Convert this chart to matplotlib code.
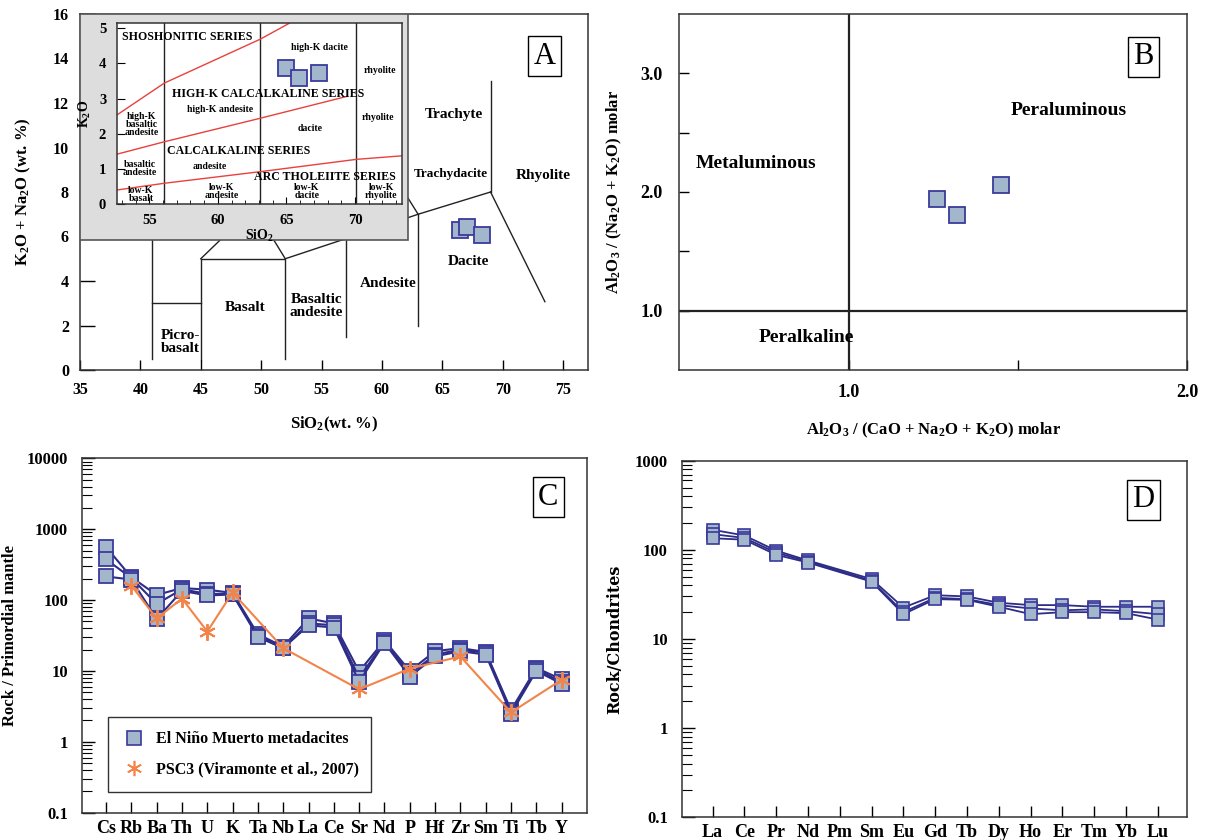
import numpy as np
import matplotlib.pyplot as plt
from matplotlib.patches import Rectangle
from matplotlib.lines import Line2D

plt.rcParams['font.family'] = ['Liberation Serif', 'DejaVu Serif']
plt.rcParams['font.weight'] = 'bold'
plt.rcParams['axes.labelweight'] = 'bold'
plt.rcParams['mathtext.default'] = 'regular'
plt.rcParams['axes.linewidth'] = 1.1

FACE = '#a2b7cb'
EDGE = '#3a3a9c'
NAVY = '#2d2d88'
ORANGE = '#f2844a'

# ---- A: TAS + K2O inset ----
tas_sio2 = [66.46, 67.06, 68.3]
tas_alk = [6.29, 6.44, 6.07]
ins_sio2 = [65.0, 65.9, 67.4]
ins_k2o = [3.87, 3.58, 3.72]

# TAS field boundaries (SiO2, Na2O+K2O)
tas_lines = [
    [(41, 0.5), (41, 7)],
    [(41, 3), (45, 3)],
    [(45, 0.45), (45, 5), (52, 5), (52, 0.5)],
    [(45, 5), (49.4, 7.3)],
    [(52, 5), (49.4, 7.3)],
    [(52, 5), (57, 5.9), (63, 7), (69, 8)],
    [(57, 5.9), (57, 1.5)],
    [(63, 7), (63, 2.0)],
    [(57, 5.9), (53, 9.3)],
    [(63, 7), (57.6, 11.7)],
    [(69, 8), (69, 13)],
    [(69, 8), (73.5, 3.07)],
]
tas_names = ['Picro-\nbasalt', 'Basalt', 'Basaltic\nandesite', 'Andesite', 'Dacite',
             'Rhyolite', 'Trachydacite', 'Trachyte']
tas_name_xy = [(43.3, 1.26), (48.66, 2.8), (54.6, 2.88), (60.5, 3.9), (67.2, 4.87),
               (73.35, 8.72), (65.7, 8.81), (66.0, 11.5)]

# Peccerillo & Taylor series boundaries
pt_lines = [
    [(52.67, 2.54), (56.1, 3.44), (63.1, 4.69), (65.2, 5.14)],
    [(52.67, 1.42), (56.1, 1.77), (63.1, 2.44), (69.4, 3.06)],
    [(52.67, 0.40), (56.1, 0.59), (63.1, 0.92), (70.1, 1.27), (73.4, 1.37)],
]
pt_big = ['SHOSHONITIC SERIES', 'HIGH-K CALCALKALINE SERIES', 'CALCALKALINE SERIES',
          'ARC THOLEIITE SERIES']
pt_big_xy = [(53.0, 4.75), (63.7, 3.14), (61.5, 1.50), (67.8, 0.76)]
pt_small = ['high-K dacite', 'rhyolite', 'high-K andesite', 'high-K\nbasaltic\nandesite',
            'rhyolite', 'dacite', 'basaltic\nandesite', 'andesite', 'low-K\nbasalt',
            'low-K\nandesite', 'low-K\ndacite', 'low-K\nrhyolite']
pt_small_xy = [(67.4, 4.45), (71.8, 3.8), (60.15, 2.68), (54.45, 2.27), (71.7, 2.47),
               (66.7, 2.16), (54.3, 1.02), (59.4, 1.08), (54.4, 0.27), (60.3, 0.36),
               (66.5, 0.36), (71.9, 0.36)]

# ---- B: A/CNK vs A/NK ----
acnk = [1.26, 1.32, 1.45]
ank = [1.94, 1.81, 2.06]

# ---- C: primitive-mantle spider ----
spider_el = ['Cs', 'Rb', 'Ba', 'Th', 'U', 'K', 'Ta', 'Nb', 'La', 'Ce', 'Sr', 'Nd', 'P',
             'Hf', 'Zr', 'Sm', 'Ti', 'Tb', 'Y']
pm_s1 = [560, 210, 118, 148, 140, 126, 33, 22, 55, 47, 9.8, 27, 10, 19, 21, 18.5, 2.8, 11, 7.6]
pm_s2 = [375, 205, 88, 142, 122, 123, 31, 21, 47, 44, 8.0, 26, 9.0, 17, 20, 18, 2.6, 10.5, 7.0]
pm_s3 = [215, 195, 54, 135, 116, 120, 30, 21, 44, 41, 7.0, 25, 8.3, 16, 19, 17, 2.5, 10, 6.6]
pm_psc3 = [np.nan, 160, 55, 105, 36, 128, np.nan, 21, np.nan, np.nan, 5.5, np.nan, 10.8,
           np.nan, 16, np.nan, 2.6, np.nan, 7.5]

# ---- D: chondrite REE ----
ree_el = ['La', 'Ce', 'Pr', 'Nd', 'Pm', 'Sm', 'Eu', 'Gd', 'Tb', 'Dy', 'Ho', 'Er', 'Tm',
          'Yb', 'Lu']
ree_s1 = [168, 145, 98, 76, np.nan, 47, 22.5, 31, 30, 25.5, 24, 24, 23, 23, 23]
ree_s2 = [150, 136, 93, 74, np.nan, 45, 20, 29, 28, 24, 22, 21, 21.5, 20.5, 19]
ree_s3 = [135, 130, 88, 72, np.nan, 44, 19, 28, 27.5, 23, 19, 20, 20, 19.5, 16.5]

W, H = 1205, 840
fig = plt.figure(figsize=(W / 100, H / 100), dpi=100)


def px_axes(l, t, r, b):
    return fig.add_axes([l / W, 1 - b / H, (r - l) / W, (b - t) / H])


def letter(ax, s, x, y):
    ax.text(x, y, s, transform=ax.transAxes, fontsize=22, fontweight='normal',
            ha='center', va='center', zorder=10,
            bbox=dict(boxstyle='square,pad=0.18', fc='white', ec='black', lw=1.0))


sq = dict(marker='s', mfc=FACE, mec=EDGE, mew=1.3, ls='none')

# ===== A =====
axA = px_axes(80, 14, 588, 370)
axA.set_xlim(35, 77.07)
axA.set_ylim(0, 16)
for seg in tas_lines:
    xs, ys = zip(*seg)
    axA.plot(xs, ys, color='#222222', lw=1.0, zorder=1)
for name, (x, y) in zip(tas_names, tas_name_xy):
    fs = 9.5 if name == 'Trachydacite' else 11
    axA.text(x, y, name, ha='center', va='center', fontsize=fs, zorder=2,
             linespacing=1.0)
axA.plot(tas_sio2, tas_alk, ms=12, zorder=6, **sq)
axA.add_patch(Rectangle((35, 5.85), 27.2, 10.15, fc='#dddddd', ec='#555555', lw=1.2,
                        zorder=4))
axA.set_xticks(range(35, 80, 5))
axA.set_yticks(range(0, 18, 2))
axA.tick_params(axis='x', direction='in', length=7, width=1, labelsize=11.5, pad=9)
axA.tick_params(axis='y', direction='in', length=11, width=1, labelsize=11.5, pad=8)
axA.set_xlabel('SiO$_2$(wt. %)', fontsize=12, labelpad=12)
axA.set_ylabel('K$_2$O + Na$_2$O (wt. %)', fontsize=12, labelpad=14)
letter(axA, 'A', 0.914, 0.882)

# inset
axI = px_axes(117.3, 23.3, 401.7, 204)
axI.set_zorder(5)
axI.set_xlim(52.67, 73.4)
axI.set_ylim(0, 5.14)
for xv in (56.1, 63.1, 70.1):
    axI.axvline(xv, color='#222222', lw=1.0)
for seg in pt_lines:
    xs, ys = zip(*seg)
    axI.plot(xs, ys, color='#e8413c', lw=1.0)
for name, (x, y) in zip(pt_big, pt_big_xy):
    ha = 'left' if name.startswith('SHOSH') else 'center'
    axI.text(x, y, name, ha=ha, va='center', fontsize=8.6)
for name, (x, y) in zip(pt_small, pt_small_xy):
    axI.text(x, y, name, ha='center', va='center', fontsize=7, linespacing=0.85)
axI.plot(ins_sio2, ins_k2o, ms=11, **sq)
axI.set_xticks([55, 60, 65, 70])
axI.set_xticks(range(53, 74), minor=True)
axI.set_yticks(range(0, 6))
axI.tick_params(which='both', direction='in', labelsize=10.5)
axI.tick_params(axis='x', which='major', length=5, pad=7)
axI.tick_params(axis='x', which='minor', length=3)
axI.tick_params(axis='y', length=6, pad=8)
axI.set_xlabel('SiO$_2$', fontsize=10, labelpad=1)
axI.set_ylabel('K$_2$O', fontsize=10, labelpad=4)

# ===== B =====
axB = px_axes(679.3, 14, 1187, 370)
axB.set_xlim(0.5, 2.0)
axB.set_ylim(0.5, 3.5)
axB.axvline(1.0, color='#222222', lw=1.6)
axB.axhline(1.0, color='#222222', lw=1.6)
axB.plot(acnk, ank, ms=12, **sq)
axB.text(0.726, 2.24, 'Metaluminous', ha='center', va='center', fontsize=14)
axB.text(1.65, 2.69, 'Peraluminous', ha='center', va='center', fontsize=14)
axB.text(0.875, 0.77, 'Peralkaline', ha='center', va='center', fontsize=14)
axB.set_xticks([1.0, 1.5, 2.0])
axB.set_xticklabels(['1.0', '', '2.0'])
axB.set_yticks([1.0, 1.5, 2.0, 2.5, 3.0])
axB.set_yticklabels(['1.0', '', '2.0', '', '3.0'])
axB.tick_params(direction='in', length=7, width=1, labelsize=13)
axB.tick_params(axis='x', pad=10)
axB.tick_params(axis='y', pad=12)
axB.set_xlabel('Al$_2$O$_3$ / (CaO + Na$_2$O + K$_2$O) molar', fontsize=12, labelpad=14)
axB.set_ylabel('Al$_2$O$_3$ / (Na$_2$O + K$_2$O) molar', fontsize=12, labelpad=12)
letter(axB, 'B', 0.914, 0.88)

# ===== C =====
axC = px_axes(82, 458.3, 586.7, 812.7)
xc = np.arange(len(spider_el))
for s in (pm_s1, pm_s2, pm_s3):
    axC.plot(xc, s, color=NAVY, lw=1.5, marker='s', ms=10, mfc=FACE, mec=EDGE, mew=1.3)
psc = np.array(pm_psc3)
ok = ~np.isnan(psc)
axC.plot(xc[ok], psc[ok], color=ORANGE, lw=1.5, marker=(6, 2, 0), ms=12, mec=ORANGE,
         mew=1.4, zorder=5)
axC.set_yscale('log')
axC.set_ylim(0.1, 10000)
axC.set_xlim(-0.95, 18.99)
axC.set_xticks(xc)
axC.set_xticklabels(spider_el)
axC.set_yticks([0.1, 1, 10, 100, 1000, 10000])
axC.set_yticklabels(['0.1', '1', '10', '100', '1000', '10000'])
axC.tick_params(axis='x', direction='in', length=8, width=1, labelsize=13, pad=5)
axC.tick_params(axis='y', which='major', direction='in', length=9, width=1,
                labelsize=12, pad=10)
axC.tick_params(axis='y', which='minor', direction='in', length=7, width=0.8)
axC.set_ylabel('Rock / Primordial mantle', fontsize=12, labelpad=6)
hnd = [Line2D([], [], ls='none', marker='s', ms=10, mfc=FACE, mec=EDGE, mew=1.2),
       Line2D([], [], ls='none', marker=(6, 2, 0), ms=11, mec=ORANGE, mew=1.2)]
axC.legend(hnd, ['El Niño Muerto metadacites', 'PSC3 (Viramonte et al., 2007)'],
           loc='lower left', bbox_to_anchor=(0.0515, 0.058, 0.521, 0.195), mode='expand',
           borderaxespad=0, fontsize=11.5, fancybox=False, edgecolor='#333333',
           framealpha=1, borderpad=0.9, labelspacing=0.9, handletextpad=0.6,
           handlelength=1.5)
letter(axC, 'C', 0.924, 0.89)

# ===== D =====
axD = px_axes(681.7, 460.7, 1186.5, 817.3)
xd = np.arange(len(ree_el))
for s in (ree_s1, ree_s2, ree_s3):
    arr = np.array(s)
    m = ~np.isnan(arr)
    axD.plot(xd[m], arr[m], color=NAVY, lw=1.3, marker='s', ms=9, mfc=FACE, mec=EDGE,
             mew=1.2)
axD.set_yscale('log')
axD.set_ylim(0.1, 1000)
axD.set_xlim(-0.97, 14.9)
axD.set_xticks(xd)
axD.set_xticklabels(ree_el)
axD.set_yticks([0.1, 1, 10, 100, 1000])
axD.set_yticklabels(['0.1', '1', '10', '100', '1000'])
axD.tick_params(axis='x', direction='in', length=8, width=1, labelsize=13, pad=5)
axD.tick_params(axis='y', which='major', direction='in', length=9, width=1,
                labelsize=12, pad=10)
axD.tick_params(axis='y', which='minor', direction='in', length=7, width=0.8)
axD.set_ylabel('Rock/Chondrites', fontsize=11.5, family='DejaVu Serif', labelpad=8)
letter(axD, 'D', 0.914, 0.89)

for ax in (axA, axB, axC, axD, axI):
    for sp in ax.spines.values():
        sp.set_color('#333333')

fig.savefig('out.png', dpi=100)
